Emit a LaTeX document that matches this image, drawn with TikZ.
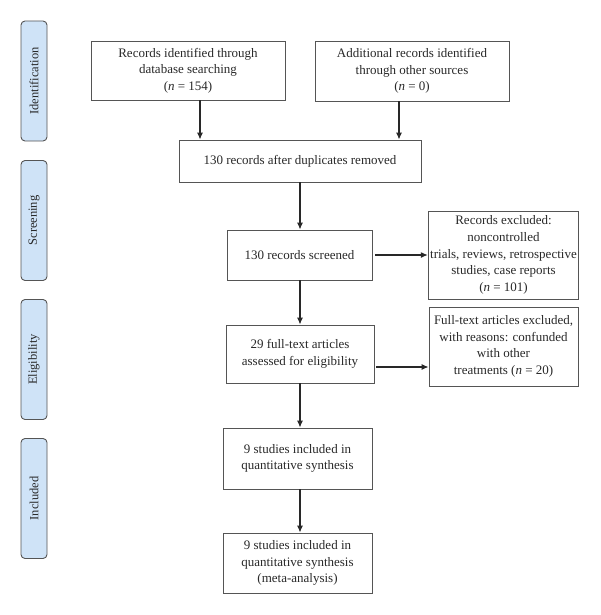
\documentclass[tikz,border=0pt]{standalone}
\usepackage{fontspec}
\setmainfont{Liberation Serif}
\usetikzlibrary{positioning,arrows.meta}
\definecolor{phase}{RGB}{207,227,247}
\definecolor{edge}{RGB}{85,85,85}
\definecolor{ink}{RGB}{40,40,40}

\tikzset{
  stage/.style={draw=edge, line width=0.9pt, rounded corners=4pt, fill=phase,
    minimum width=120pt, minimum height=26pt, text=ink, rotate=90, inner sep=0pt,
    font=\fontsize{12.5}{15}\selectfont},
  box/.style={draw=edge, line width=0.9pt, text=ink, align=center, inner sep=2pt,
    font=\fontsize{13}{16.6}\selectfont},
  flow/.style={-{Latex[length=7pt,width=6pt]}, line width=1.1pt, draw=ink}
}

\begin{document}
\begin{tikzpicture}[x=1pt, y=-1pt]
\useasboundingbox (0,0) rectangle (600,615);

% phases on the left
\node[stage] (ident) at (34,81) {Identification};
\node[stage] (screen) at (34,220.5) {Screening};
\node[stage] (elig) at (34,359.5) {Eligibility};
\node[stage] (incl) at (34,498.5) {Included};

% boxes
\node[box, minimum width=194pt, minimum height=59pt] (rec) at (188,70.5) {Records identified through\\database searching\\(\textit{n} = 154)};
\node[box, minimum width=194pt, minimum height=60pt] (other) at (412,71) {Additional records identified\\through other sources\\(\textit{n} = 0)};
\node[box, minimum width=242pt, minimum height=42pt] (dup) at (300,161) {130 records after duplicates removed};
\node[box, minimum width=145pt, minimum height=50pt] (scr) at (299.5,255) {130 records screened};
\node[box, minimum width=149pt, minimum height=88pt] (excl) at (503.5,255) {Records excluded:\\noncontrolled\\trials, reviews, retrospective\\studies, case reports\\(\textit{n} = 101)};
\node[box, minimum width=148pt, minimum height=58pt] (full) at (300,354) {29 full-text articles\\assessed for eligibility};
\node[box, minimum width=149pt, minimum height=79pt] (fexcl) at (503.5,346.5) {Full-text articles excluded,\\with reasons: confunded\\with other\\treatments (\textit{n} = 20)};
\node[box, minimum width=149pt, minimum height=61pt] (syn) at (297.5,458.5) {9 studies included in\\quantitative synthesis};
\node[box, minimum width=149pt, minimum height=60pt] (meta) at (297.5,563) {9 studies included in\\quantitative synthesis\\(meta-analysis)};

% arrows
\draw[flow] ([xshift=12pt]rec.south) -- ([xshift=12pt]rec.south |- dup.north);
\draw[flow] ([xshift=-13pt]other.south) -- ([xshift=-13pt]other.south |- dup.north);
\draw[flow] (dup.south) -- (dup.south |- scr.north);
\draw[flow] ([xshift=3pt]scr.east) -- (excl.west);
\draw[flow] (scr.south -| full.north) -- (full.north);
\draw[flow] ([xshift=2pt,yshift=-13pt]full.east) -- ([yshift=-13pt]full.east -| fexcl.west);
\draw[flow] (full.south) -- (full.south |- syn.north);
\draw[flow] (syn.south -| full.south) -- (full.south |- meta.north);
\end{tikzpicture}
\end{document}
